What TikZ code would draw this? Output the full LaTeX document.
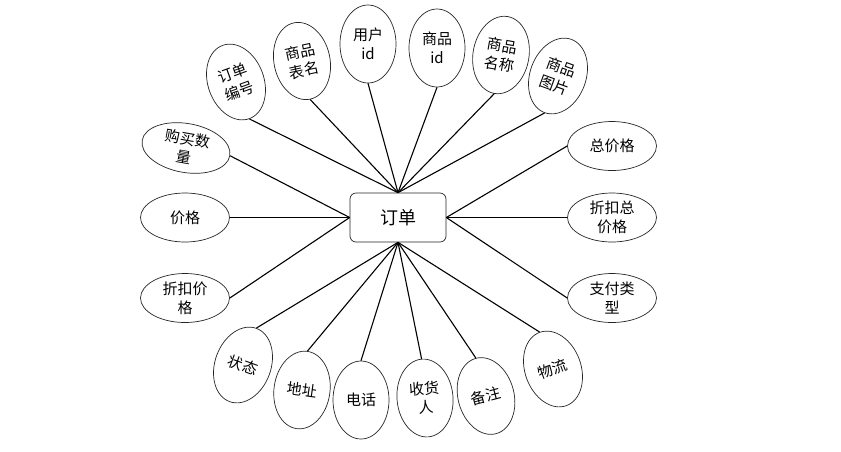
\documentclass[tikz,border=0pt]{standalone}
\usepackage{fontspec}
\usepackage{tikz}
\usetikzlibrary{shapes.geometric}
\newfontfamily\cjk{Noto Sans CJK SC}

\begin{document}
\begin{tikzpicture}[x=1pt,y=-1pt,
  font=\cjk\fontsize{15}{19}\selectfont,
  attr/.style={ellipse,draw=black!85,line width=0.7pt,fill=white,inner sep=0pt,align=center},
  vattr/.style={attr,minimum width=56pt,minimum height=78pt},
  hattr/.style={attr,minimum width=89pt,minimum height=49pt},
  entity/.style={rounded corners=6pt,draw=black!85,line width=0.7pt,fill=white,
                 minimum width=96pt,minimum height=49pt,font=\cjk\fontsize{18}{20}\selectfont},
  link/.style={line width=1.1pt,black}]
\useasboundingbox (0,0) rectangle (841,451);
\node[entity] (ord) at (398,217.5) {订单};
% top
\node[vattr,rotate=20] (t1) at (236,82) {订单\\编号};
\node[vattr,rotate=12] (t2) at (302,61) {商品\\表名};
\node[vattr] (t3) at (368,44) {用户\\id};
\node[vattr] (t4) at (437,48) {商品\\id};
\node[vattr,rotate=-10] (t5) at (501,55) {商品\\名称};
\node[vattr,rotate=-20] (t6) at (558,76) {商品\\图片};
% left
\node[hattr,rotate=-10] (l1) at (186,148) {购买数\\量};
\node[hattr] (l2) at (185,217.5) {价格};
\node[hattr] (l3) at (185,298) {折扣价\\格};
% right
\node[hattr] (r1) at (612,146) {总价格};
\node[hattr] (r2) at (612,217.5) {折扣总\\价格};
\node[hattr] (r3) at (612,298) {支付类\\型};
% bottom
\node[vattr,rotate=-20] (b1) at (243,365) {状态};
\node[vattr,rotate=-8] (b2) at (302,390) {地址};
\node[vattr] (b3) at (361,400) {电话};
\node[vattr,rotate=5] (b4) at (425,398) {收货\\人};
\node[vattr,rotate=15] (b5) at (486,396) {备注};
\node[vattr,rotate=20] (b6) at (553,369) {物流};
\draw[link] (t1.south)--(ord.north); \draw[link] (t2.south)--(ord.north); \draw[link] (t3.south)--(ord.north);
\draw[link] (t4.south)--(ord.north); \draw[link] (t5.south)--(ord.north); \draw[link] (t6.south)--(ord.north);
\draw[link] (l1.east)--(ord.west); \draw[link] (l2.east)--(ord.west); \draw[link] (l3.east)--(ord.west);
\draw[link] (r1.west)--(ord.east); \draw[link] (r2.west)--(ord.east); \draw[link] (r3.west)--(ord.east);
\draw[link] (b1.north)--(ord.south); \draw[link] (b2.north)--(ord.south); \draw[link] (b3.north)--(ord.south);
\draw[link] (b4.north)--(ord.south); \draw[link] (b5.north)--(ord.south); \draw[link] (b6.north)--(ord.south);
\end{tikzpicture}
\end{document}
